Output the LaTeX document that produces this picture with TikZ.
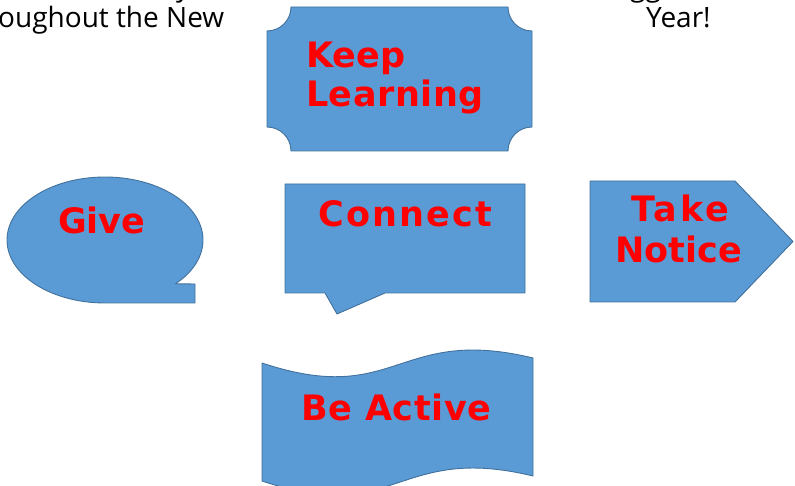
\documentclass[tikz,border=0pt]{standalone}
\usepackage{fontspec}
\newfontfamily\lblfont{DejaVu Sans}
\newfontfamily\topfont{Open Sans}
\definecolor{shapefill}{HTML}{5B9BD5}
\definecolor{shapeline}{HTML}{41719C}
\definecolor{lblred}{HTML}{FF0000}
\newcommand{\lsp}[1]{\addfontfeature{LetterSpace=#1}}
\tikzset{
  shp/.style={fill=shapefill, draw=shapeline, line width=0.9pt, line join=round},
  lbl/.style={inner sep=0pt, anchor=base west, text=lblred, font=\lblfont\bfseries\fontsize{35}{40}\selectfont},
  toptxt/.style={inner sep=0pt, anchor=base west, text=black, font=\topfont\fontsize{28}{32}\selectfont}
}
\begin{document}
\begin{tikzpicture}[x=1pt,y=-1pt]
\useasboundingbox (0,0) rectangle (795,486);
% top text fragments
\node[toptxt] (t1) at (-2,28) {oughout the New};
\node[toptxt] (t2) at (646,28) {Year!};
\node[toptxt] (t3) at (176,-3) {y};
\node[toptxt] (t4) at (630,-3) {gg};
% Keep Learning plaque
\draw[shp] (291,7) -- (508,7) arc[start angle=180,end angle=90,radius=24]
  -- (532,127) arc[start angle=270,end angle=180,radius=24]
  -- (291,151) arc[start angle=0,end angle=-90,radius=24]
  -- (267,31) arc[start angle=90,end angle=0,radius=24] -- cycle;
\node[lbl] (keep) at (306,68) {Keep};
\node[lbl] (learn) at (306,107) {\lsp{1.5}Learning};
% Give bubble
\draw[shp] (195,303) -- (195,284) -- ([shift={(105,240)}]44:98 and 63)
  arc[start angle=44,end angle=-270,x radius=98,y radius=63] -- cycle;
\node[lbl] (give) at (58,234) {Give};
% Connect callout
\draw[shp] (285,184) -- (525,184) -- (525,293) -- (385,293) -- (337,314) -- (325,293) -- (285,293) -- cycle;
\node[lbl] (connect) at (318,227) {\lsp{6.5}Connect};
% Take Notice pentagon
\draw[shp] (590,181) -- (735,181) -- (793,241.5) -- (735,302) -- (590,302) -- cycle;
\node[lbl] (take) at (631,222) {\lsp{9}Take};
\node[lbl] (notice) at (615,263) {Notice};
% Be Active wave
\draw[shp] (262,363) .. controls (397,408) and (397,325) .. (533,358)
  -- (533,476) .. controls (397,443) and (397,526) .. (262,481) -- cycle;
\node[lbl] (active) at (301,420) {\lsp{1.8}Be Active};
\end{tikzpicture}
\end{document}
